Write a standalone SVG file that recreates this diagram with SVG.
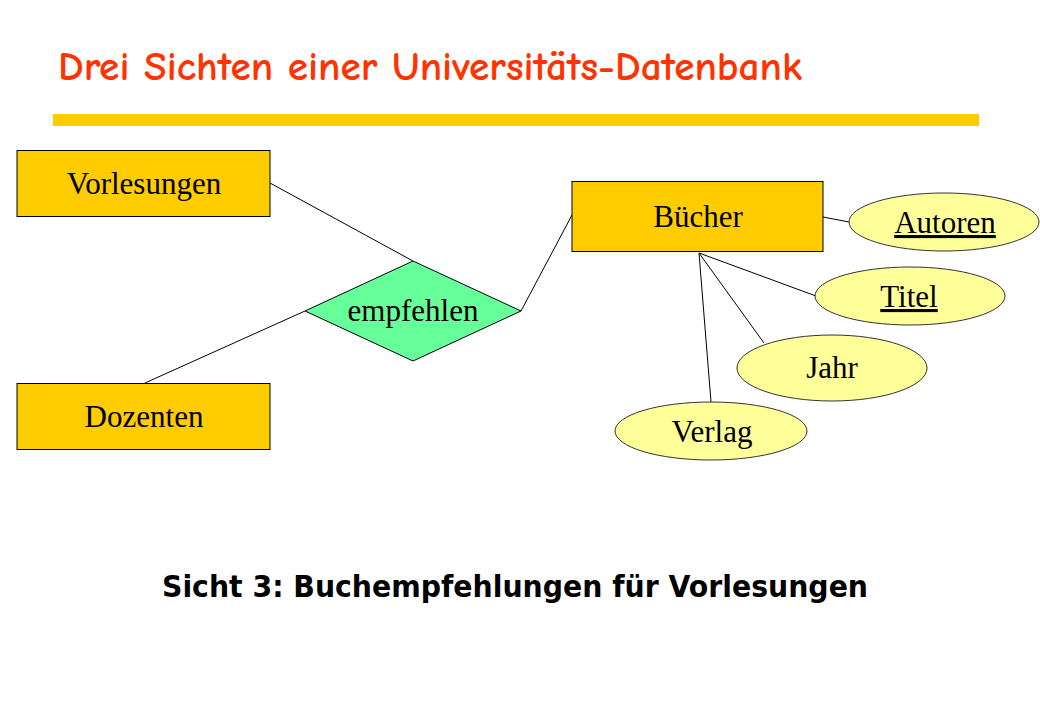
<svg xmlns="http://www.w3.org/2000/svg" width="1040" height="720" viewBox="0 0 1040 720">
<style>
.ent{fill:#FFCC00;stroke:#000;stroke-width:1}
.rel{fill:#66FF99;stroke:#000;stroke-width:1}
.att{fill:#FFFF99;stroke:#333;stroke-width:1}
.lbl{font-family:"Liberation Serif","Times New Roman",serif;font-size:31px;fill:#000;text-anchor:middle}
.key{text-decoration:underline}
.con line{stroke:#000;stroke-width:1}
</style>
<rect width="1040" height="720" fill="#fff"/>
<text x="58" y="80" font-family="'Comic Neue','DejaVu Sans',sans-serif" font-size="40" font-weight="bold" fill="#FF3300" textLength="744" lengthAdjust="spacingAndGlyphs">Drei Sichten einer Universitäts-Datenbank</text>
<rect x="53" y="114" width="926" height="12" fill="#FFCC00"/>
<g id="connectors" class="con">
<line x1="270" y1="183" x2="413" y2="261"/>
<line x1="145" y1="383" x2="305" y2="311"/>
<line x1="521" y1="311" x2="572" y2="215"/>
<line x1="823" y1="217" x2="849" y2="222"/>
<line x1="699" y1="253" x2="816" y2="296"/>
<line x1="699" y1="253" x2="764" y2="343"/>
<line x1="699" y1="253" x2="711" y2="402"/>
</g>
<g id="vorlesungen"><rect class="ent" x="17" y="150.5" width="253" height="66"/><text class="lbl" x="144" y="194">Vorlesungen</text></g>
<g id="dozenten"><rect class="ent" x="17" y="383.5" width="253" height="66"/><text class="lbl" x="144" y="427">Dozenten</text></g>
<g id="empfehlen"><polygon class="rel" points="413,261 521,311 413,361 305,311"/><text class="lbl" x="413" y="321">empfehlen</text></g>
<g id="buecher"><rect class="ent" x="572" y="181.5" width="251" height="70"/><text class="lbl" x="698" y="227">Bücher</text></g>
<g id="autoren"><ellipse class="att" cx="944" cy="222" rx="95" ry="29"/><text class="lbl key" x="945" y="233">Autoren</text></g>
<g id="titel"><ellipse class="att" cx="910" cy="296" rx="95" ry="29"/><text class="lbl key" x="909" y="307">Titel</text></g>
<g id="jahr"><ellipse class="att" cx="832" cy="368" rx="95" ry="33"/><text class="lbl" x="832" y="378">Jahr</text></g>
<g id="verlag"><ellipse class="att" cx="711" cy="431" rx="96" ry="29"/><text class="lbl" x="712" y="442">Verlag</text></g>
<text x="162" y="597" font-family="'DejaVu Sans',Verdana,sans-serif" font-weight="bold" font-size="30" fill="#000" textLength="706" lengthAdjust="spacingAndGlyphs">Sicht 3: Buchempfehlungen für Vorlesungen</text>
</svg>
